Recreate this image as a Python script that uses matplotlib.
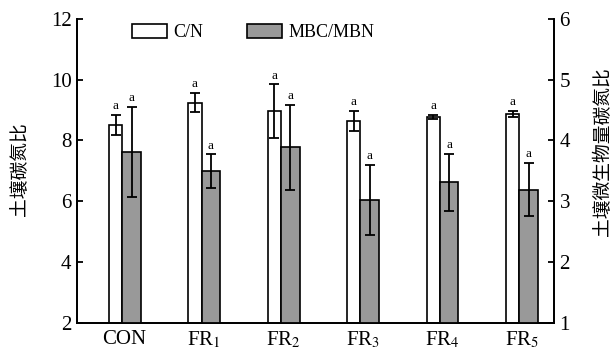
import matplotlib
matplotlib.use("Agg")
import matplotlib.pyplot as plt
import numpy as np

categories = ["CON", "FR$_1$", "FR$_2$", "FR$_3$", "FR$_4$", "FR$_5$"]
cn_mean = [8.52, 9.25, 8.97, 8.65, 8.78, 8.87]
cn_err = [0.33, 0.31, 0.88, 0.33, 0.06, 0.10]
mb_mean = [3.81, 3.49, 3.89, 3.02, 3.31, 3.19]
mb_err = [0.74, 0.28, 0.70, 0.58, 0.47, 0.44]
cn_letters = ["a"] * 6
mb_letters = ["a"] * 6
left_ticks = [2, 4, 6, 8, 10, 12]
right_ticks = [1, 2, 3, 4, 5, 6]

plt.rcParams['font.family'] = ['Liberation Serif', 'DejaVu Serif']
plt.rcParams['mathtext.fontset'] = 'stix'
cjk = ['Noto Sans CJK SC', 'DejaVu Sans']

fig = plt.figure(figsize=(6.16, 3.54), dpi=100)
ax = fig.add_axes([77/616, 1-322.7/354, (554-77)/616, (322.7-19)/354])
ax2 = ax.twinx()

x = np.arange(len(categories))
w_white = 0.168
w_gray = 0.233

ax.bar(x, cn_mean, width=-w_white, align='edge', bottom=0, color='white',
       edgecolor='black', linewidth=1.2, zorder=2)
ax.errorbar(x - w_white/2, cn_mean, yerr=cn_err, fmt='none', ecolor='black',
            elinewidth=1.3, capsize=3.3, capthick=1.3, zorder=3)
ax2.bar(x, mb_mean, width=w_gray, align='edge', color='#999999',
        edgecolor='black', linewidth=1.2, zorder=2)
ax2.errorbar(x + w_gray/2, mb_mean, yerr=mb_err, fmt='none', ecolor='black',
             elinewidth=1.3, capsize=3.3, capthick=1.3, zorder=3)

for xi, m, e, l in zip(x, cn_mean, cn_err, cn_letters):
    ax.annotate(l, (xi - w_white/2, m + e), xytext=(0, 2), textcoords='offset points',
                ha='center', va='bottom', fontsize=9.5)
for xi, m, e, l in zip(x, mb_mean, mb_err, mb_letters):
    ax2.annotate(l, (xi + w_gray/2, m + e), xytext=(0, 2), textcoords='offset points',
                 ha='center', va='bottom', fontsize=9.5)

ax.set_xlim(-0.57, 5.437)
ax.set_ylim(2, 12)
ax2.set_ylim(1, 6)
ax.set_yticks(left_ticks)
ax2.set_yticks(right_ticks)
ax.set_xticks(x + 0.03)
ax.set_xticklabels(categories, fontsize=15)
ax.tick_params(axis='x', length=0, pad=5)
ax.tick_params(axis='y', direction='in', length=4, width=1.3, labelsize=15, pad=4)
ax2.tick_params(axis='y', direction='in', length=4, width=1.3, labelsize=15, pad=4)

for a in (ax, ax2):
    a.spines['top'].set_visible(False)
    for s in ('left', 'right', 'bottom'):
        a.spines[s].set_linewidth(1.3)

fig.text(20/616, 1-169/354, "土壤碳氮比", rotation=90, ha='center', va='center',
         fontsize=13.5, family=cjk)
fig.text(603/616, 1-152/354, "土壤微生物量碳氮比", rotation=90, ha='center', va='center',
         fontsize=13.5, family=cjk)

from matplotlib.patches import Patch
handles = [Patch(facecolor='white', edgecolor='black', linewidth=1.2),
           Patch(facecolor='#999999', edgecolor='black', linewidth=1.2)]
leg = fig.legend(handles, ["C/N", "MBC/MBN"], loc='upper left',
                 bbox_to_anchor=(132/616, 1-24/354), ncol=2, frameon=False,
                 fontsize=13, handlelength=1.95, handleheight=0.78,
                 handletextpad=0.35, columnspacing=2.4, borderpad=0, borderaxespad=0)

fig.savefig("out.png", dpi=100)
